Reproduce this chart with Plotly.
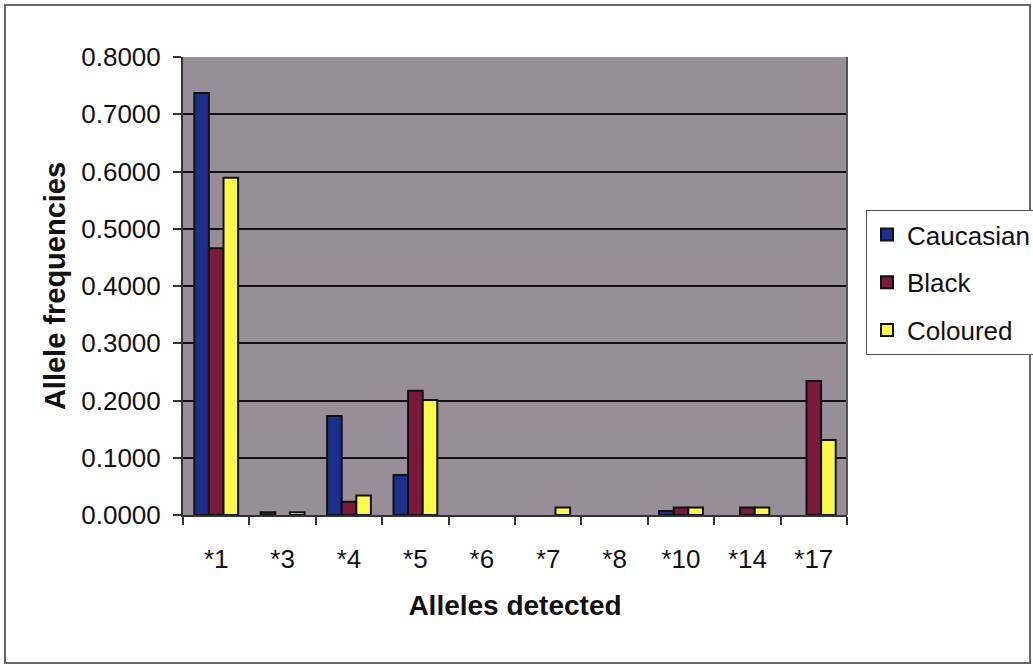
import plotly.graph_objects as go

# Allele frequency data by population group
alleles = ["*1", "*3", "*4", "*5", "*6", "*7", "*8", "*10", "*14", "*17"]
caucasian = [0.737, 0.005, 0.173, 0.070, 0.0, 0.0, 0.0, 0.007, 0.0, 0.0]
black = [0.466, 0.0, 0.023, 0.217, 0.0, 0.0, 0.0, 0.013, 0.013, 0.234]
coloured = [0.589, 0.005, 0.034, 0.201, 0.0, 0.013, 0.0, 0.013, 0.013, 0.131]
y_ticks = [0.0, 0.1, 0.2, 0.3, 0.4, 0.5, 0.6, 0.7, 0.8]

W, H = 1033, 666
L, R, T, B = 183, 186, 57, 151
pw, ph = W - L - R, H - T - B

series = [
    ("Caucasian", caucasian, "#1c2f8c"),
    ("Black", black, "#7a1a3c"),
    ("Coloured", coloured, "#fbf94a"),
]

fig = go.Figure()
for i, (name, vals, col) in enumerate(series):
    # zero frequencies are left empty so no outline is drawn on the axis
    fig.add_trace(go.Bar(
        x=alleles, y=[v if v > 0 else None for v in vals],
        name=name, legendgroup=f"g{i}",
        marker=dict(color=col, line=dict(color="#111111", width=2)),
    ))


def px_x(p):
    return (p - L) / pw


def px_y(p):
    return (H - B - p) / ph


font = "Liberation Sans, Arial, sans-serif"
fig.update_layout(
    width=W, height=H,
    margin=dict(l=L, r=R, t=T, b=B, autoexpand=False),
    paper_bgcolor="white",
    plot_bgcolor="#978e98",
    barmode="group",
    bargap=0.34,
    bargroupgap=0.0,
    font=dict(family=font, color="#111111", size=26),
    showlegend=True,
    legend=dict(
        x=px_x(866), y=px_y(210), xanchor="left", yanchor="top",
        bgcolor="white", bordercolor="#555555", borderwidth=1,
        font=dict(size=26, family=font, color="#111111"),
        tracegroupgap=11, itemwidth=30,
    ),
    xaxis=dict(
        type="category", tickson="boundaries", ticks="outside", ticklen=8,
        tickcolor="#333333", tickwidth=2, showline=True, linecolor="#333333",
        linewidth=2, mirror=False, showgrid=False,
        tickfont=dict(size=26), ticklabelstandoff=20,
        title=dict(text="<b>Alleles detected</b>", font=dict(size=28), standoff=22),
    ),
    yaxis=dict(
        range=[0, 0.8], tickvals=y_ticks, tickformat=".4f", ticks="outside",
        ticklen=8, tickcolor="#333333", tickwidth=2, showline=True,
        linecolor="#333333", linewidth=2, showgrid=True, gridcolor="#111111",
        gridwidth=1.5, zeroline=False, tickfont=dict(size=26),
        ticklabelstandoff=7,
        title=dict(text="<b>Allele frequencies</b>", font=dict(size=29), standoff=7),
    ),
    shapes=[
        # right edge of the plotting area
        dict(type="line", xref="paper", yref="paper", x0=1, x1=1, y0=0, y1=1,
             line=dict(color="#555555", width=2)),
        # outer chart frame
        dict(type="rect", xref="paper", yref="paper",
             x0=px_x(5), x1=px_x(1030), y0=px_y(663), y1=px_y(5),
             line=dict(color="#666666", width=2), layer="below"),
    ],
)

fig.write_html("out.html")
